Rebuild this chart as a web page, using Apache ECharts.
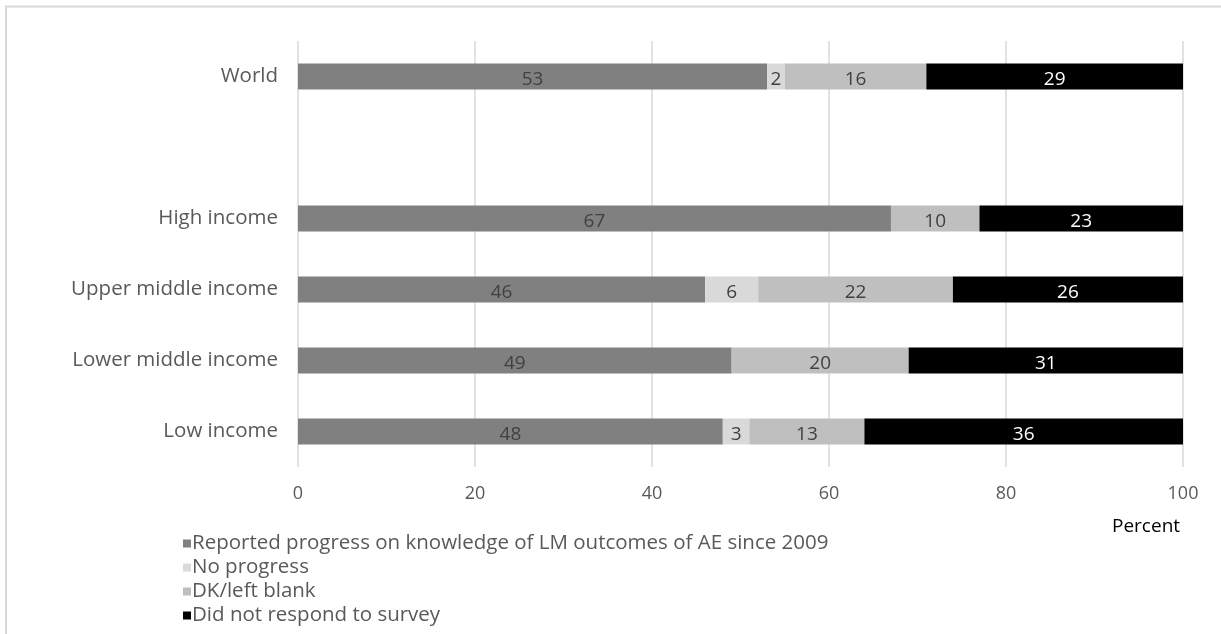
<!DOCTYPE html>
<html>
<head>
<meta charset="utf-8">
<script src="https://cdn.jsdelivr.net/npm/echarts@6/dist/echarts.min.js"></script>
<style>html,body{margin:0;padding:0;background:#fff;}#c{width:1221px;height:634px;}</style>
</head>
<body>
<div id="c"></div>
<script>
const categories = ['Low income', 'Lower middle income', 'Upper middle income', 'High income', '', 'World'];
const seriesNames = ['Reported progress on knowledge of LM outcomes of AE since 2009', 'No progress', 'DK/left blank', 'Did not respond to survey'];
const reported = [48, 49, 46, 67, '-', 53];
const noProgress = [3, 0, 6, 0, '-', 2];
const dkBlank = [13, 20, 22, 10, '-', 16];
const noResponse = [36, 31, 26, 23, '-', 29];
const xTicks = [0, 20, 40, 60, 80, 100];

const FONT = '"Open Sans"';
const colors = ['#808080', '#d9d9d9', '#bfbfbf', '#000000'];
const values = [reported, noProgress, dkBlank, noResponse];

const chart = echarts.init(document.getElementById('c'));
chart.setOption({
  animation: false,
  textStyle: { fontFamily: FONT },
  grid: { left: 298, right: 38, top: 41, height: 426, containLabel: false },
  legend: {
    orient: 'vertical', left: 178, top: 528,
    itemWidth: 8, itemHeight: 8, itemGap: 3,
    icon: 'rect',
    textStyle: { color: '#595959', fontSize: 20.5, lineHeight: 20, fontFamily: FONT, padding: [0, 0, 0, -4] },
    data: seriesNames
  },
  xAxis: {
    type: 'value', min: 0, max: 100, interval: 20,
    axisLine: { show: false }, axisTick: { show: false },
    splitLine: { lineStyle: { color: '#d9d9d9', width: 1.5 } },
    axisLabel: { color: '#595959', fontSize: 18, margin: 18, fontFamily: FONT }
  },
  yAxis: {
    type: 'category', data: categories,
    axisLine: { show: false }, axisTick: { show: false },
    axisLabel: { color: '#595959', fontSize: 20.5, margin: 20, fontFamily: FONT }
  },
  graphic: [
    { type: 'rect', shape: { x: 6, y: 6.5, width: 1400, height: 800 }, style: { fill: 'none', stroke: '#d9d9d9', lineWidth: 2 }, silent: true },
    { type: 'text', left: 1112, top: 517, style: { text: 'Percent', fill: '#000', font: '19px ' + FONT } }
  ],
  series: values.map((v, i) => ({
    name: seriesNames[i], type: 'bar', stack: 'total', data: v,
    barWidth: 26,
    itemStyle: { color: colors[i] },
    label: {
      show: true, position: 'inside', offset: [0, 3],
      color: i === 3 ? '#ffffff' : '#404040',
      fontSize: 19, fontFamily: FONT,
      formatter: p => (p.value && p.value !== '-') ? String(p.value) : ''
    }
  }))
});
</script>
</body>
</html>
